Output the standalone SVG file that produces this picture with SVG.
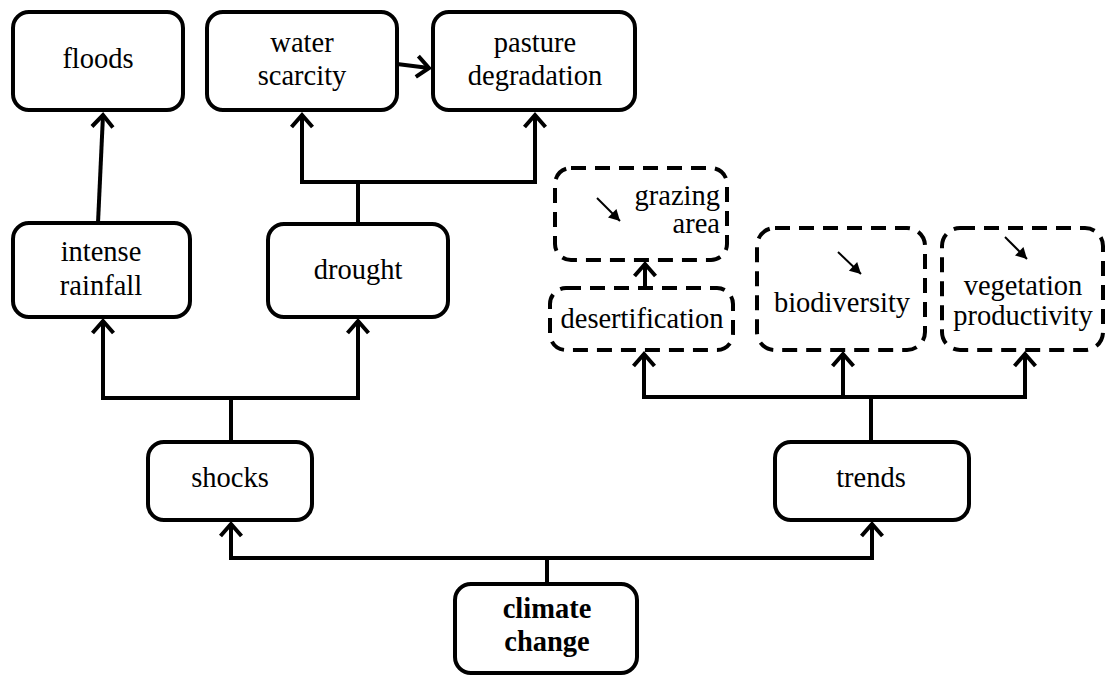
<svg xmlns="http://www.w3.org/2000/svg" width="1106" height="675" viewBox="0 0 1106 675">
  <defs>
    <style>
      .box { fill: #ffffff; stroke: #000000; stroke-width: 4; }
      .dbox { fill: #ffffff; stroke: #000000; stroke-width: 4; stroke-dasharray: 15 9; }
      .lbl { font-family: 'Liberation Serif', 'Times New Roman', Times, serif; font-size: 28.5px; fill: #000000; text-anchor: middle; }
      .bold { font-weight: bold; }
      .wire { fill: none; stroke: #000000; stroke-width: 4; stroke-linejoin: miter; stroke-linecap: butt; }
      .tick { fill: none; stroke: #000000; stroke-width: 2; }
    </style>
    <marker id="open" markerUnits="userSpaceOnUse" markerWidth="30" markerHeight="30" viewBox="-16 -15 20 30" refX="0" refY="0" orient="auto-start-reverse">
      <path d="M-12,-10.5 L0,0 L-12,10.5" fill="none" stroke="#000000" stroke-width="4"/>
    </marker>
    <marker id="solid" markerUnits="userSpaceOnUse" markerWidth="14" markerHeight="14" viewBox="-12 -7 14 14" refX="0" refY="0" orient="auto">
      <path d="M-11,-6 L0,0 L-11,6 Z" fill="#000000"/>
    </marker>
  </defs>

  <!-- connectors -->
  <g id="connectors">
    <path class="wire" d="M98,223 L103,115" marker-end="url(#open)"/>
    <path class="wire" d="M397,64 L429,68" marker-end="url(#open)"/>
    <path class="wire" d="M358,224 L358,182"/>
    <path class="wire" d="M302,115 L302,182 L535,182 L535,115" marker-start="url(#open)" marker-end="url(#open)"/>
    <path class="wire" d="M231,442 L231,398"/>
    <path class="wire" d="M103,321 L103,398 L358,398 L358,321" marker-start="url(#open)" marker-end="url(#open)"/>
    <path class="wire" d="M547,584 L547,558"/>
    <path class="wire" d="M231,524 L231,558 L872,558 L872,524" marker-start="url(#open)" marker-end="url(#open)"/>
    <path class="wire" d="M871,442 L871,397"/>
    <path class="wire" d="M644,354 L644,397 L1025,397 L1025,354" marker-start="url(#open)" marker-end="url(#open)"/>
    <path class="wire" d="M843,397 L843,354" marker-end="url(#open)"/>
    <path class="wire" d="M645,286 L645,264" marker-end="url(#open)"/>
  </g>

  <g id="floods">
    <rect class="box" x="13" y="12" width="170" height="98" rx="16"/>
    <text class="lbl" x="98" y="68">floods</text>
  </g>

  <g id="water-scarcity">
    <rect class="box" x="207" y="12" width="190" height="98" rx="16"/>
    <text class="lbl" x="302" y="52">water</text>
    <text class="lbl" x="302" y="85">scarcity</text>
  </g>

  <g id="pasture-degradation">
    <rect class="box" x="433" y="12" width="202" height="98" rx="16"/>
    <text class="lbl" x="535" y="52">pasture</text>
    <text class="lbl" x="535" y="85">degradation</text>
  </g>

  <g id="intense-rainfall">
    <rect class="box" x="13" y="223" width="177" height="94" rx="16"/>
    <text class="lbl" x="101" y="261">intense</text>
    <text class="lbl" x="101" y="295">rainfall</text>
  </g>

  <g id="drought">
    <rect class="box" x="268" y="224" width="180" height="93" rx="16"/>
    <text class="lbl" x="358" y="279">drought</text>
  </g>

  <g id="grazing-area">
    <rect class="dbox" x="555" y="168" width="172" height="92" rx="16"/>
    <line class="tick" x1="597" y1="198" x2="620" y2="221" marker-end="url(#solid)"/>
    <text class="lbl" x="720" y="205" style="text-anchor:end">grazing</text>
    <text class="lbl" x="720" y="233" style="text-anchor:end">area</text>
  </g>

  <g id="desertification">
    <rect class="dbox" x="550" y="288" width="183" height="62" rx="16"/>
    <text class="lbl" x="642" y="328">desertification</text>
  </g>

  <g id="biodiversity">
    <rect class="dbox" x="757" y="228" width="168" height="122" rx="18"/>
    <line class="tick" x1="838" y1="252" x2="861" y2="274" marker-end="url(#solid)"/>
    <text class="lbl" x="842" y="312">biodiversity</text>
  </g>

  <g id="vegetation-productivity">
    <rect class="dbox" x="942" y="228" width="161" height="122" rx="18"/>
    <line class="tick" x1="1005" y1="237" x2="1027" y2="259" marker-end="url(#solid)"/>
    <text class="lbl" x="1023" y="295">vegetation</text>
    <text class="lbl" x="1023" y="325">productivity</text>
  </g>

  <g id="shocks">
    <rect class="box" x="148" y="442" width="164" height="78" rx="16"/>
    <text class="lbl" x="230" y="487">shocks</text>
  </g>

  <g id="trends">
    <rect class="box" x="775" y="442" width="194" height="78" rx="16"/>
    <text class="lbl" x="871" y="487">trends</text>
  </g>

  <g id="climate-change">
    <rect class="box" x="455" y="584" width="182" height="89" rx="16"/>
    <text class="lbl bold" x="547" y="618">climate</text>
    <text class="lbl bold" x="547" y="651">change</text>
  </g>
</svg>
